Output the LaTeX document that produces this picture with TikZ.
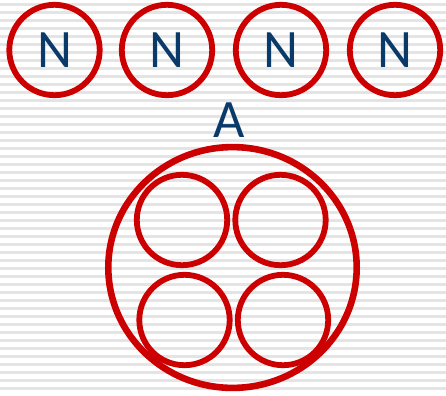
\documentclass[tikz,border=0pt]{standalone}
\usepackage{fontspec}
\setmainfont{Carlito}
\usetikzlibrary{positioning,shapes.geometric}
\definecolor{ringred}{HTML}{CC0000}
\definecolor{letterblue}{HTML}{0A3A6A}
\definecolor{stripegray}{HTML}{E4E4E4}

\begin{document}
\begin{tikzpicture}[
        x=0.5mm, y=-0.5mm,
        every node/.style={font=\fontsize{77}{80}\selectfont, text=letterblue, inner sep=0pt},
        ring/.style={draw=ringred, circle, line width=2.9mm, minimum size=45.2mm},
        bigring/.style={draw=ringred, ellipse, line width=3.3mm, minimum width=124.2mm, minimum height=120.4mm},
        stripe/.style={stripegray, line width=1.25mm}
    ]
        \useasboundingbox (0,0) rectangle (446,395);
        \fill[white] (0,0) rectangle (446,395);
        \foreach \y in {4.7,12.7,...,395} {
            \draw[stripe] (0,\y) -- (446,\y);
        }

        \node[ring] (n1) at (54.5,50) {N};
        \node[ring] (n2) at (167,50) {N};
        \node[ring] (n3) at (281,50) {N};
        \node[ring] (n4) at (395,50) {N};

        \node (label) at (229,120) {A};

        \node[bigring] (outer) at (232.5,267.5) {};
        \node[ring] (tl) at (182,220) {};
        \node[ring] (tr) at (280.5,220) {};
        \node[ring] (bl) at (184.5,320) {};
        \node[ring] (br) at (283,320) {};
    \end{tikzpicture}
\end{document}
